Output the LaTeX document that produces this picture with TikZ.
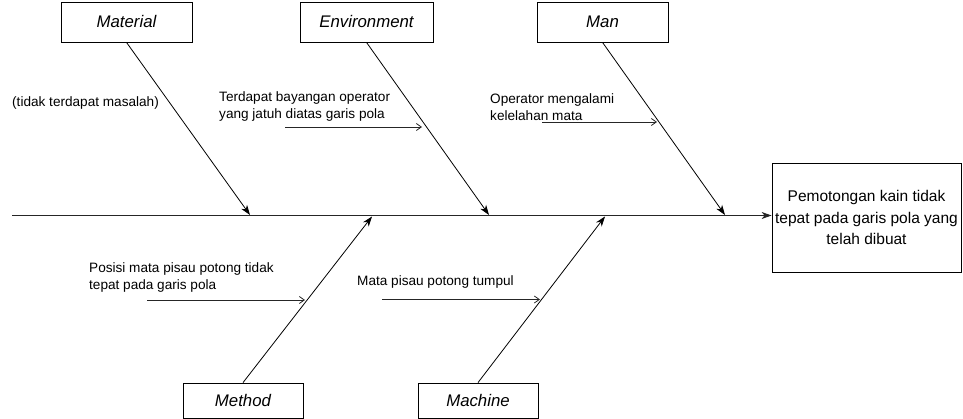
\documentclass[tikz,border=0pt]{standalone}
\usepackage{fontspec}
\setmainfont{Liberation Sans}
\usetikzlibrary{arrows.meta}
\begin{document}
\begin{tikzpicture}[x=1pt,y=-1pt,
  catbox/.style={draw=black, line width=0.8pt, fill=white, inner sep=0pt,
    font=\fontsize{16.8}{19}\selectfont\itshape},
  effbox/.style={draw=black, line width=0.8pt, fill=white, inner sep=0pt, align=center,
    font=\fontsize{15.5}{21.5}\selectfont},
  cause/.style={inner sep=0pt, align=left, font=\fontsize{13.6}{17}\selectfont},
  bone/.style={draw=black, line width=0.8pt, -{Stealth[length=10pt,width=7pt,inset=3pt]}},
  spine/.style={draw=black!85, line width=1pt, -{Stealth[length=10pt,width=7pt,inset=3pt]}},
  sub/.style={draw=black!85, line width=0.8pt, -{Straight Barb[length=5pt,width=7pt]}}]
\useasboundingbox (0,0) rectangle (963,419);

% category boxes
\node[catbox, minimum width=131pt, minimum height=40pt] (mat) at (126.5,22) {Material};
\node[catbox, minimum width=133pt, minimum height=40pt] (env) at (366.5,22) {Environment};
\node[catbox, minimum width=131pt, minimum height=40pt] (man) at (602.5,22) {Man};
\node[catbox, minimum width=120pt, minimum height=35pt] (met) at (243,400.5) {Method};
\node[catbox, minimum width=120pt, minimum height=35pt] (mac) at (478,400.5) {Machine};

% effect box
\node[effbox, minimum width=189pt, minimum height=109pt] (eff) at (866.5,217.5)
  {Pemotongan kain tidak\\tepat pada garis pola yang\\telah dibuat};

% spine
\coordinate (s0) at (12,215.5);
\draw[spine] (s0) -- (s0 -| eff.west);

% bone endpoints
\coordinate (matE) at (250,215);
\coordinate (envE) at (489,215);
\coordinate (manE) at (725,215);
\coordinate (metE) at (372,216.5);
\coordinate (macE) at (605,216.5);

\draw[bone] (mat.south) -- (matE);
\draw[bone] (env.south) -- (envE);
\draw[bone] (man.south) -- (manE);
\draw[bone] (met.north) -- (metE);
\draw[bone] (mac.north) -- (macE);

% cause labels
\node[cause, anchor=west] (c0) at (12,103) {(tidak terdapat masalah)};
\node[cause, anchor=west] (c1) at (219,106) {Terdapat bayangan operator\\yang jatuh diatas garis pola};
\node[cause, anchor=west] (c2) at (490,107) {Operator mengalami\\kelelahan mata};
\node[cause, anchor=west] (c3) at (89,277.5) {Posisi mata pisau potong tidak\\tepat pada garis pola};
\node[cause, anchor=west] (c4) at (357,282) {Mata pisau potong tumpul};

% sub arrows
\coordinate (a1) at (285,127); \coordinate (b1) at (422,127);
\coordinate (a2) at (542,122); \coordinate (b2) at (657,122);
\coordinate (a3) at (147,300); \coordinate (b3) at (305,300);
\coordinate (a4) at (382,299.5); \coordinate (b4) at (540,299.5);
\draw[sub] (a1) -- (b1);
\draw[sub] (a2) -- (b2);
\draw[sub] (a3) -- (b3);
\draw[sub] (a4) -- (b4);
\end{tikzpicture}
\end{document}
